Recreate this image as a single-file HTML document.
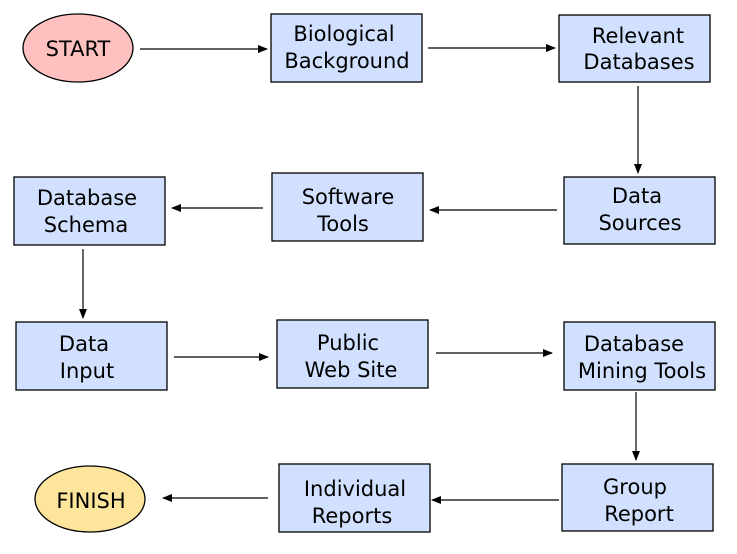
<!DOCTYPE html>
<html><head><style>
html,body{margin:0;padding:0;background:#fff;}
svg{display:block;}
text{font-family:"DejaVu Sans","Liberation Sans",sans-serif;font-size:21px;fill:#000;text-anchor:middle;}
.b{fill:#d0e0fe;stroke:#000;stroke-width:1.3;}
.l{stroke:#000;stroke-width:1.2;fill:none;}
</style></head><body>
<svg width="737" height="554" viewBox="0 0 737 554" xmlns="http://www.w3.org/2000/svg">
<defs><marker id="a" markerWidth="10" markerHeight="8" refX="9" refY="4" orient="auto" markerUnits="userSpaceOnUse"><path d="M0,0 L10,4 L0,8 z" fill="#000"/></marker></defs>

<ellipse cx="78" cy="48" rx="55" ry="34" fill="#ffc0c0" stroke="#000" stroke-width="1.3"/>
<text x="78" y="56">START</text>

<rect class="b" x="271" y="14" width="151" height="68"/>
<text x="344" y="41">Biological</text><text x="347" y="68">Background</text>

<rect class="b" x="559" y="15" width="151" height="67"/>
<text x="638" y="43">Relevant</text><text x="639" y="69">Databases</text>

<rect class="b" x="564" y="177" width="151" height="67"/>
<text x="637" y="203">Data</text><text x="640" y="230">Sources</text>

<rect class="b" x="272" y="173" width="151" height="68"/>
<text x="348" y="204">Software</text><text x="343" y="231">Tools</text>

<rect class="b" x="14" y="177" width="151" height="68"/>
<text x="87" y="205">Database</text><text x="86" y="232">Schema</text>

<rect class="b" x="16" y="322" width="151" height="68"/>
<text x="84" y="351">Data</text><text x="87" y="378">Input</text>

<rect class="b" x="277" y="320" width="151" height="68"/>
<text x="348" y="350">Public</text><text x="351" y="377">Web Site</text>

<rect class="b" x="564" y="322" width="151" height="68"/>
<text x="634" y="351">Database</text><text x="642" y="378">Mining Tools</text>

<rect class="b" x="562" y="464" width="151" height="67"/>
<text x="635" y="494">Group</text><text x="639" y="521">Report</text>

<rect class="b" x="279" y="464" width="151" height="68"/>
<text x="355" y="496">Individual</text><text x="352" y="523">Reports</text>

<ellipse cx="90" cy="499" rx="55" ry="33" fill="#fde59c" stroke="#000" stroke-width="1.3"/>
<text x="91" y="508">FINISH</text>

<line class="l" x1="140" y1="49" x2="267" y2="49" marker-end="url(#a)"/>
<line class="l" x1="428" y1="48" x2="555" y2="48" marker-end="url(#a)"/>
<line class="l" x1="638" y1="86" x2="638" y2="173" marker-end="url(#a)"/>
<line class="l" x1="557" y1="210" x2="430" y2="210" marker-end="url(#a)"/>
<line class="l" x1="263" y1="208" x2="172" y2="208" marker-end="url(#a)"/>
<line class="l" x1="83" y1="249" x2="83" y2="318" marker-end="url(#a)"/>
<line class="l" x1="174" y1="357" x2="268" y2="357" marker-end="url(#a)"/>
<line class="l" x1="436" y1="353" x2="552" y2="353" marker-end="url(#a)"/>
<line class="l" x1="636" y1="392" x2="636" y2="460" marker-end="url(#a)"/>
<line class="l" x1="559" y1="500" x2="432" y2="500" marker-end="url(#a)"/>
<line class="l" x1="268" y1="498" x2="163" y2="498" marker-end="url(#a)"/>
</svg>
</body></html>
